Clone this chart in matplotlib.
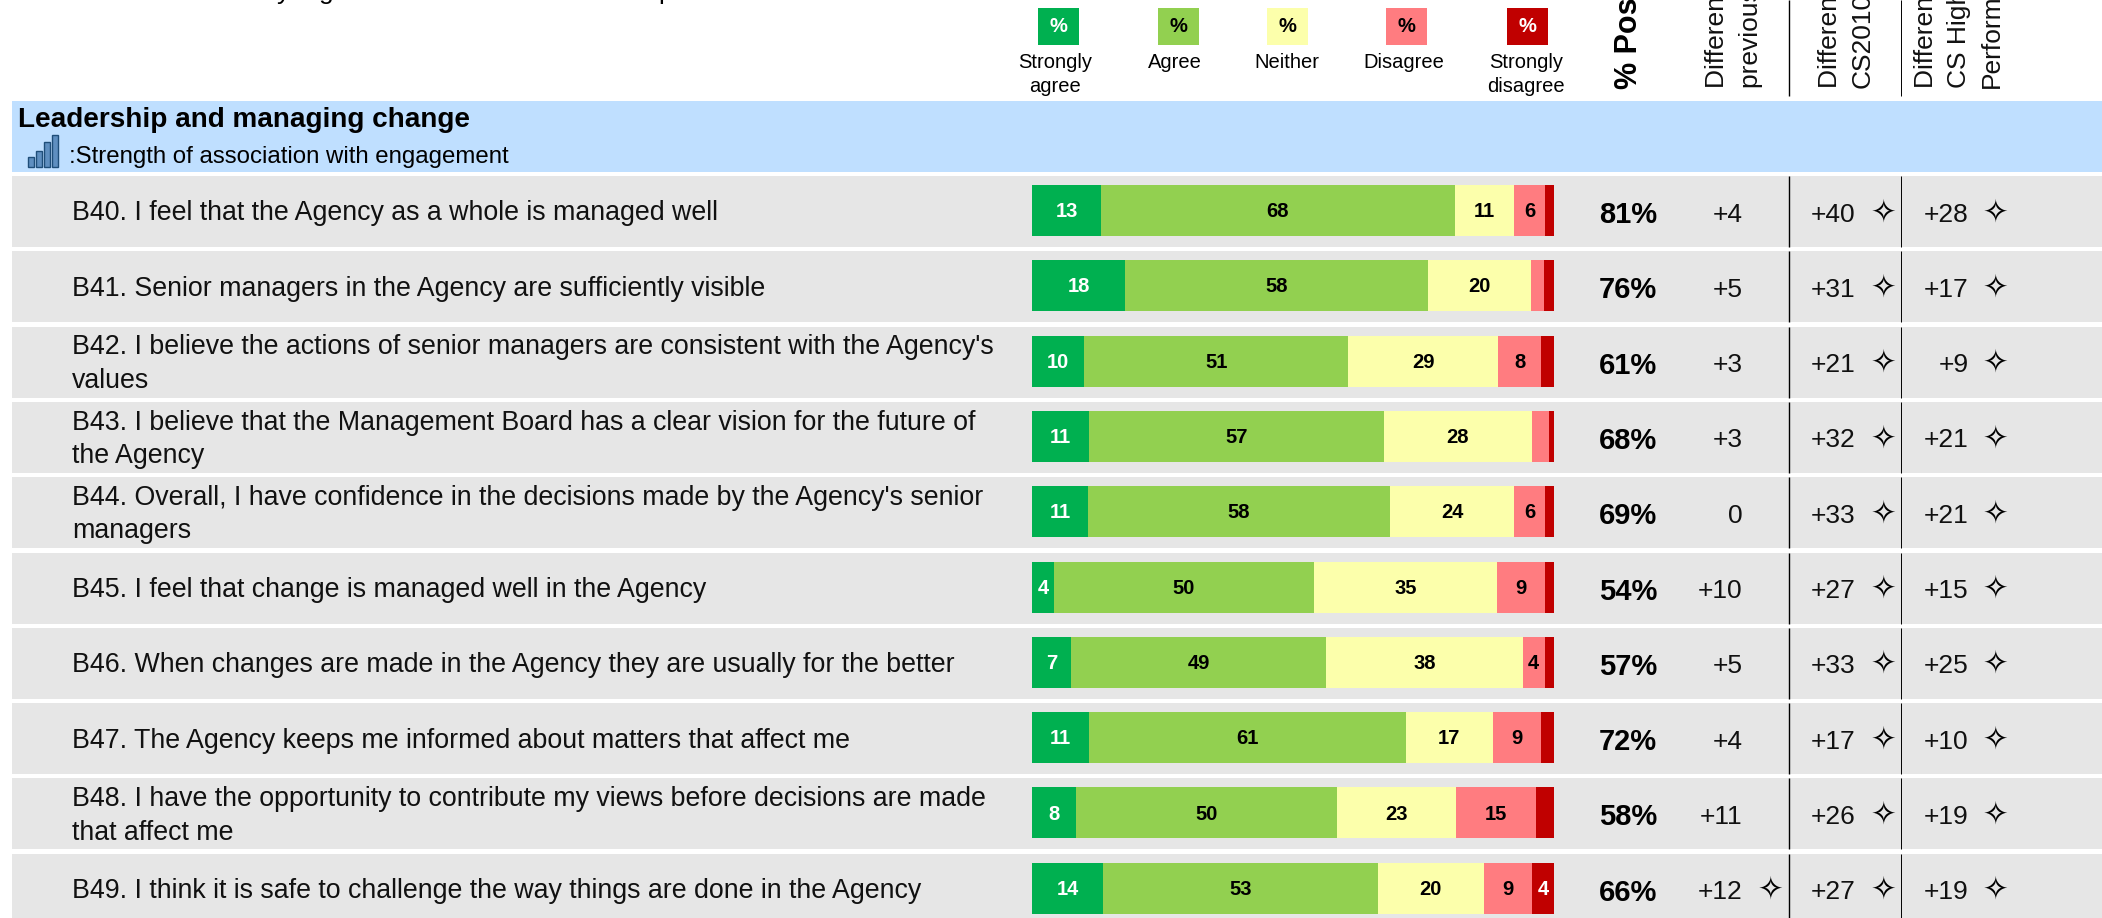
import matplotlib
matplotlib.use("Agg")
import matplotlib.pyplot as plt
from matplotlib.patches import Rectangle

plt.rcParams['font.family'] = ['Liberation Sans', 'DejaVu Sans']

questions = [
    "B40. I feel that the Agency as a whole is managed well",
    "B41. Senior managers in the Agency are sufficiently visible",
    "B42. I believe the actions of senior managers are consistent with the Agency's\nvalues",
    "B43. I believe that the Management Board has a clear vision for the future of\nthe Agency",
    "B44. Overall, I have confidence in the decisions made by the Agency's senior\nmanagers",
    "B45. I feel that change is managed well in the Agency",
    "B46. When changes are made in the Agency they are usually for the better",
    "B47. The Agency keeps me informed about matters that affect me",
    "B48. I have the opportunity to contribute my views before decisions are made\nthat affect me",
    "B49. I think it is safe to challenge the way things are done in the Agency",
]

strongly_agree = [13.2, 17.8, 10.0, 10.9, 10.7, 4.2, 7.4, 10.9, 8.4, 13.6]
agree = [67.8, 58.0, 50.6, 56.6, 57.9, 49.8, 49.0, 60.7, 50.1, 52.6]
neither = [11.4, 19.7, 28.7, 28.2, 23.8, 35.1, 37.6, 16.7, 22.8, 20.3]
disagree = [5.8, 2.5, 8.2, 3.4, 5.9, 9.2, 4.2, 9.3, 15.3, 9.3]
strongly_disagree = [1.8, 2.0, 2.5, 0.9, 1.7, 1.7, 1.8, 2.4, 3.4, 4.2]

pct_positive = [81, 76, 61, 68, 69, 54, 57, 72, 58, 66]
diff_previous = ["+4", "+5", "+3", "+3", "0", "+10", "+5", "+4", "+11", "+12"]
diff_cs2010 = ["+40", "+31", "+21", "+32", "+33", "+27", "+33", "+17", "+26", "+27"]
diff_high = ["+28", "+17", "+9", "+21", "+21", "+15", "+25", "+10", "+19", "+19"]
star_previous = [False] * 9 + [True]
star_cs2010 = [True] * 10
star_high = [True] * 10

legend_labels = ["Strongly\nagree", "Agree", "Neither", "Disagree", "Strongly\ndisagree"]
icon_levels = [10, 16, 25, 32]

series = [strongly_agree, agree, neither, disagree, strongly_disagree]
colors = ["#00B050", "#92D050", "#FCFFAB", "#FF7C80", "#C00000"]
label_colors = ["white", "black", "black", "black", "white"]

W, H = 2102, 918
ROW_TOP = 176
ROW_STEP = 75.3
ROW_H = 71
BAR_X0, BAR_X1 = 1032, 1554

fig = plt.figure(figsize=(W / 100, H / 100), dpi=100)
ax = fig.add_axes([0, 0, 1, 1])
ax.set_xlim(0, W)
ax.set_ylim(H, 0)
ax.axis("off")

# section header
ax.add_patch(Rectangle((11.5, 101), W, 71, color="#BFDFFF", lw=0))
ax.text(18, 120, "Leadership and managing change", fontsize=20.1, fontweight="bold", va="center")
ax.text(69, 157, ":Strength of association with engagement", fontsize=17.3, va="center")
for i, lev in enumerate(icon_levels):
    ax.add_patch(Rectangle((28 + i * 8, 167 - lev), 6, lev, fc="#5F8FC0", ec="#1F4E79", lw=1))

# rows
for i in range(len(questions)):
    top = ROW_TOP + i * ROW_STEP
    mid = top + ROW_H / 2
    ax.add_patch(Rectangle((11.5, top), W, ROW_H, color="#E6E6E6", lw=0))
    ax.text(72, mid + 2, questions[i], fontsize=19.25, va="center", linespacing=1.36, color="#111111")
    ax.text(1628, mid + 3.5, f"{pct_positive[i]}%", fontsize=21, fontweight="bold", ha="center", va="center")
    for x, vals, sx, stars in [(1742.5, diff_previous, 1770, star_previous),
                               (1855.5, diff_cs2010, 1883, star_cs2010),
                               (1968.5, diff_high, 1995, star_high)]:
        ax.text(x, mid + 3, vals[i], fontsize=19, ha="right", va="center", color="#111111")
        if stars[i]:
            ax.text(sx, mid + 1, "\u2727", fontsize=22, ha="center", va="center", family="DejaVu Sans")
    ax.vlines(1788.5, top, top + ROW_H, color="black", lw=1.0)
    ax.vlines(1901, top, top + ROW_H, color="black", lw=0.7)

# column header
ax.vlines(1788.5, 0, 96, color="black", lw=1.0)
ax.vlines(1901, 0, 96, color="black", lw=0.7)
swatch_x = [1038, 1158, 1267, 1386, 1507]
label_x = [1055, 1175, 1287, 1404, 1526]
for i in range(5):
    ax.add_patch(Rectangle((swatch_x[i], 8), 41, 37, color=colors[i], lw=0))
    ax.text(swatch_x[i] + 20.5, 27, "%", fontsize=14.5, fontweight="bold", color=label_colors[i],
            ha="center", va="center")
    ax.text(label_x[i], 53.5, legend_labels[i], fontsize=14.5, ha="center", va="top", linespacing=1.3)

rot = dict(rotation=90, rotation_mode="anchor", ha="left", va="baseline")
ax.text(1637, 89, "% Positive", fontsize=22, fontweight="bold", clip_on=True, **rot)
head_cols = [(1724, "Difference from"), (1758, "previous survey"),
             (1837, "Difference from"), (1870, "CS2010"),
             (1933, "Difference from"), (1966, "CS High"), (1999, "Performers")]
for x, txt in head_cols:
    ax.text(x, 88.5, txt, fontsize=19, clip_on=True, color="#111111", **rot)

# bits of the line cut off at the very top
for x, ch in [(277, "y"), (319, "g"), (658, "p")]:
    ax.text(x, -0.5, ch, fontsize=19, va="baseline", clip_on=True)

# stacked bars
bar_top = 172
bar_ax = fig.add_axes([BAR_X0 / W, 0, (BAR_X1 - BAR_X0) / W, (H - bar_top) / H])
bar_ax.set_xlim(0, 100)
bar_ax.set_ylim((H - 210.5) / ROW_STEP, (bar_top - 210.5) / ROW_STEP)
bar_ax.axis("off")
ypos = list(range(len(questions)))
left = [0.0] * len(questions)
for vals, col, lab_col in zip(series, colors, label_colors):
    bar_ax.barh(ypos, vals, left=left, height=51 / ROW_STEP, color=col, lw=0)
    for y in ypos:
        if vals[y] >= 4:
            bar_ax.text(left[y] + vals[y] / 2, y + 0.015, f"{round(vals[y])}", fontsize=14.5, fontweight="bold",
                        color=lab_col, ha="center", va="center")
    left = [a + b for a, b in zip(left, vals)]

fig.savefig("out.png", dpi=100)
